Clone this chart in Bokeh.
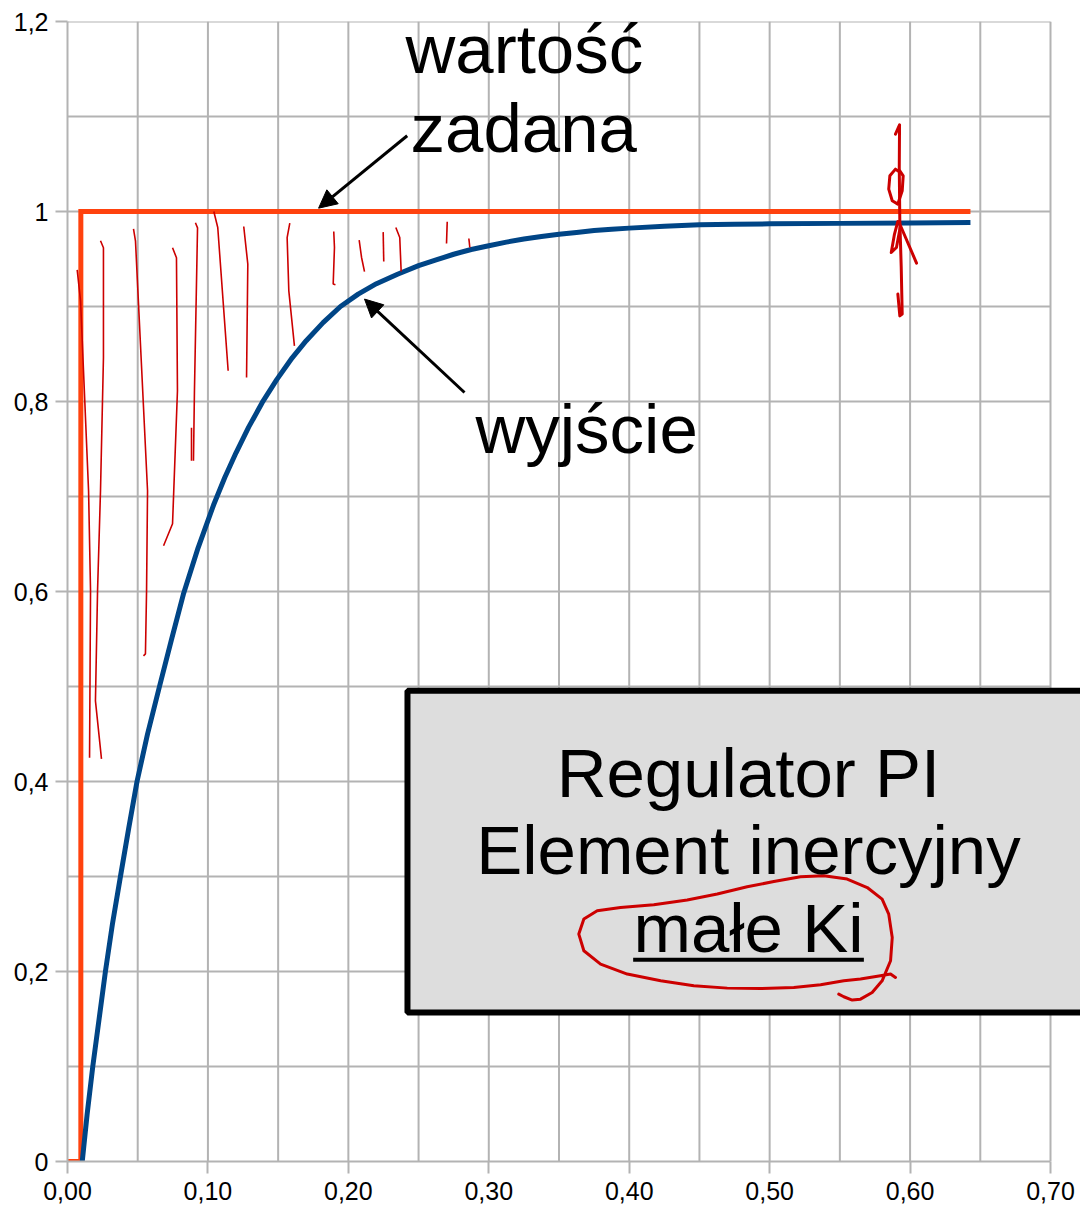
from bokeh.plotting import figure
from bokeh.models import Range1d, FixedTicker, LinearAxis, Arrow, NormalHead
from bokeh.core.properties import value
from bokeh.embed import file_html
from bokeh.resources import INLINE

# ---------------- data ----------------
# set point ("wartość zadana")
setpoint_t = [0.0, 0.0095, 0.0095, 0.643]
setpoint_y = [0.0, 0.0, 1.0, 1.0]

# output ("wyjście")
output_t = [0.0105, 0.014, 0.018, 0.0225, 0.027, 0.032, 0.0377, 0.0435, 0.0495,
            0.057, 0.0655, 0.074, 0.0825, 0.093, 0.104, 0.112, 0.12, 0.129,
            0.1387, 0.149, 0.16, 0.17, 0.182, 0.1944, 0.207, 0.22, 0.235,
            0.25, 0.2625, 0.275, 0.2875, 0.30, 0.3125, 0.325, 0.3375, 0.35,
            0.3625, 0.375, 0.3875, 0.40, 0.425, 0.45, 0.475, 0.50, 0.55,
            0.60, 0.643]
output_y = [0.0, 0.050, 0.100, 0.150, 0.200, 0.250, 0.300, 0.350, 0.400,
            0.450, 0.500, 0.549, 0.597, 0.646, 0.691, 0.720, 0.746, 0.773,
            0.799, 0.823, 0.846, 0.864, 0.883, 0.900, 0.913, 0.924, 0.934,
            0.943, 0.949, 0.955, 0.960, 0.964, 0.9678, 0.971, 0.9737, 0.976,
            0.978, 0.980, 0.9813, 0.9825, 0.9845, 0.986, 0.9865, 0.987, 0.9875,
            0.988, 0.9885]

# axes
x_ticks = [0.0, 0.1, 0.2, 0.3, 0.4, 0.5, 0.6, 0.7]
x_tick_labels = ["0,00", "0,10", "0,20", "0,30", "0,40", "0,50", "0,60", "0,70"]
y_ticks = [0.0, 0.2, 0.4, 0.6, 0.8, 1.0, 1.2]
y_tick_labels = ["0", "0,2", "0,4", "0,6", "0,8", "1", "1,2"]
x_grid = [0.05, 0.10, 0.15, 0.20, 0.25, 0.30, 0.35, 0.40, 0.45, 0.50, 0.55, 0.60, 0.65, 0.70]
y_grid = [0.1, 0.2, 0.3, 0.4, 0.5, 0.6, 0.7, 0.8, 0.9, 1.0, 1.1, 1.2]

# annotation labels
label_text = ["wartość", "zadana", "wyjście"]
label_x = [0.2407, 0.2443, 0.2905]
label_y = [1.1449, 1.0618, 0.7449]

# arrows: (x_start, y_start, x_end, y_end)
arrow_x0 = [0.2419, 0.2827]
arrow_y0 = [1.0797, 0.8095]
arrow_x1 = [0.1788, 0.2115]
arrow_y1 = [1.0035, 0.9078]

# text box
box_left, box_right, box_top, box_bottom = 0.2421, 0.76, 0.4955, 0.1568
box_lines = ["Regulator PI", "Element inercyjny", "małe Ki"]
box_line_x = [0.4849, 0.4849, 0.4849]
box_line_y = [0.3828, 0.3025, 0.2200]
underline_x = [0.4028, 0.5671]
underline_y = 0.2123

# hand-drawn red hatching (data coordinates)
hatch_xs = [
    [0.0069, 0.0093, 0.0150, 0.0164, 0.0157],
    [0.0235, 0.0256, 0.0256, 0.0235, 0.0214, 0.0199, 0.0242],
    [0.0470, 0.0484, 0.0570, 0.0563, 0.0555, 0.0541],
    [0.0748, 0.0776, 0.0783, 0.0748, 0.0684],
    [0.0911, 0.0926, 0.0904, 0.0897],
    [0.0883, 0.0883],
    [0.1042, 0.1070, 0.1144],
    [0.1255, 0.1284, 0.1275],
    [0.1583, 0.1564, 0.1576, 0.1616],
    [0.1896, 0.1901, 0.1892, 0.1908],
    [0.2077, 0.2094, 0.2115],
    [0.2248, 0.2252],
    [0.2338, 0.2366, 0.2376],
    [0.2704, 0.2699],
    [0.2858, 0.2865],
]
hatch_ys = [
    [0.9386, 0.9060, 0.7060, 0.6007, 0.4249],
    [0.9692, 0.9618, 0.8460, 0.7060, 0.6007, 0.4849, 0.4239],
    [0.9818, 0.9692, 0.7060, 0.6007, 0.5344, 0.5323],
    [0.9618, 0.9513, 0.8113, 0.6713, 0.6481],
    [0.9881, 0.9828, 0.8113, 0.7376],
    [0.7723, 0.7376],
    [1.0000, 0.9832, 0.8323],
    [0.9842, 0.9446, 0.8253],
    [0.9878, 0.9726, 0.9165, 0.8586],
    [0.9789, 0.9621, 0.9236, 0.9228],
    [0.9699, 0.9516, 0.9368],
    [0.9783, 0.9474],
    [0.9832, 0.9726, 0.9368],
    [0.9892, 0.9663],
    [0.9716, 0.9621],
]

# hand-drawn red marks: squiggle near t=0.59 and circle around "małe Ki"
mark_xs = [
    [0.5896, 0.5925, 0.5923, 0.5927, 0.5937, 0.5944, 0.5927, 0.5913],
    [0.5932, 0.5896, 0.5856, 0.5848, 0.5873, 0.5913, 0.5944, 0.5951, 0.5927],
    [0.5913, 0.5889, 0.5866, 0.5903, 0.5932, 0.6046],
    [0.5896, 0.5861, 0.5789, 0.5647, 0.5528, 0.5363, 0.5172, 0.4935, 0.4698,
     0.4460, 0.4224, 0.3986, 0.3796, 0.3677, 0.3641, 0.3677, 0.3772, 0.3938,
     0.4175, 0.4413, 0.4627, 0.4840, 0.5030, 0.5220, 0.5386, 0.5552, 0.5695,
     0.5801, 0.5848, 0.5873, 0.5861, 0.5801, 0.5730, 0.5647, 0.5588, 0.5528, 0.5492],
]
mark_ys = [
    [1.0815, 1.0913, 1.0463, 0.9902, 0.9411, 0.8920, 0.8902, 0.9131],
    [1.0411, 1.0446, 1.0376, 1.0236, 1.0113, 1.0078, 1.0218, 1.0376, 1.0428],
    [0.9895, 0.9762, 0.9568, 0.9621, 0.9850, 0.9457],
    [0.1937, 0.1973, 0.1955, 0.1920, 0.1902, 0.1860, 0.1832, 0.1821, 0.1825,
     0.1849, 0.1902, 0.1973, 0.2078, 0.2218, 0.2394, 0.2552, 0.2639, 0.2674,
     0.2702, 0.2752, 0.2815, 0.2892, 0.2947, 0.2997, 0.3007, 0.2973, 0.2884,
     0.2762, 0.2604, 0.2358, 0.2113, 0.1902, 0.1779, 0.1709, 0.1699, 0.1734, 0.1762],
]

# ---------------- styles ----------------
GRID = "#b3b3b3"
ORANGE = "#ff420e"
BLUE = "#004586"
RED = "#cc0000"
FONT = "Liberation Sans"
TEXT_SIZE = "69px"
TEXT_SHIFT = -24  # px, aligns glyph baseline with the read baseline

p = figure(width=1080, height=1211,
           x_range=Range1d(0, 0.72136), y_range=Range1d(0, 1.2),
           min_border_left=67, min_border_right=0, min_border_top=21, min_border_bottom=50,
           toolbar_location=None, output_backend="svg",
           x_axis_location=None, y_axis_location=None)
p.outline_line_color = None
p.background_fill_color = "white"
p.border_fill_color = "white"
p.xgrid.visible = False
p.ygrid.visible = False

# axes
xaxis = LinearAxis(ticker=FixedTicker(ticks=x_ticks), bounds=(0, 0.7))
xaxis.major_label_overrides = {t: l for t, l in zip(x_ticks, x_tick_labels)}
yaxis = LinearAxis(ticker=FixedTicker(ticks=y_ticks), bounds=(0, 1.2))
yaxis.major_label_overrides = {t: l for t, l in zip(y_ticks, y_tick_labels)}
for ax, standoff in ((xaxis, 8), (yaxis, 7)):
    ax.axis_line_color = GRID
    ax.axis_line_width = 2
    ax.major_tick_line_color = GRID
    ax.major_tick_line_width = 2
    ax.major_tick_in = 0
    ax.major_tick_out = 12
    ax.minor_tick_line_color = None
    ax.major_label_text_font = FONT
    ax.major_label_text_font_size = "25px"
    ax.major_label_text_color = "black"
    ax.major_label_standoff = standoff
p.add_layout(xaxis, "below")
p.add_layout(yaxis, "left")

# grid lines (limited to the 0..0.70 x 0..1.2 area)
p.segment(x0=x_grid, y0=[0.0] * len(x_grid), x1=x_grid, y1=[1.2] * len(x_grid),
          line_color=GRID, line_width=2)
p.segment(x0=[0.0] * len(y_grid), y0=y_grid, x1=[0.7] * len(y_grid), y1=y_grid,
          line_color=GRID, line_width=2)

# text box
p.quad(left=[box_left], right=[box_right], top=[box_top], bottom=[box_bottom],
       fill_color="#dddddd", line_color="black", line_width=6)

# series
p.line(setpoint_t, setpoint_y, line_color=ORANGE, line_width=5, line_join="miter")
p.line(output_t, output_y, line_color=BLUE, line_width=5, line_join="round")

# red hatching & marks
p.multi_line(hatch_xs, hatch_ys, line_color=RED, line_width=1.6)
p.multi_line(mark_xs, mark_ys, line_color=RED, line_width=3, line_join="round", line_cap="round")

# labels
p.text(x=label_x, y=label_y, text=label_text, text_font=value(FONT),
       text_font_size=TEXT_SIZE, text_color="black", text_align="left",
       text_baseline="alphabetic", y_offset=TEXT_SHIFT)
p.text(x=box_line_x, y=box_line_y, text=box_lines, text_font=value(FONT),
       text_font_size=TEXT_SIZE, text_color="black", text_align="center",
       text_baseline="alphabetic", y_offset=TEXT_SHIFT)
p.segment(x0=[underline_x[0]], y0=[underline_y], x1=[underline_x[1]], y1=[underline_y],
          line_color="black", line_width=4)

# arrows
for xs, ys, xe, ye in zip(arrow_x0, arrow_y0, arrow_x1, arrow_y1):
    p.add_layout(Arrow(end=NormalHead(size=18, fill_color="black", line_color="black"),
                       x_start=xs, y_start=ys, x_end=xe, y_end=ye,
                       line_color="black", line_width=3))

open("out.html", "w").write(file_html(p, INLINE))
